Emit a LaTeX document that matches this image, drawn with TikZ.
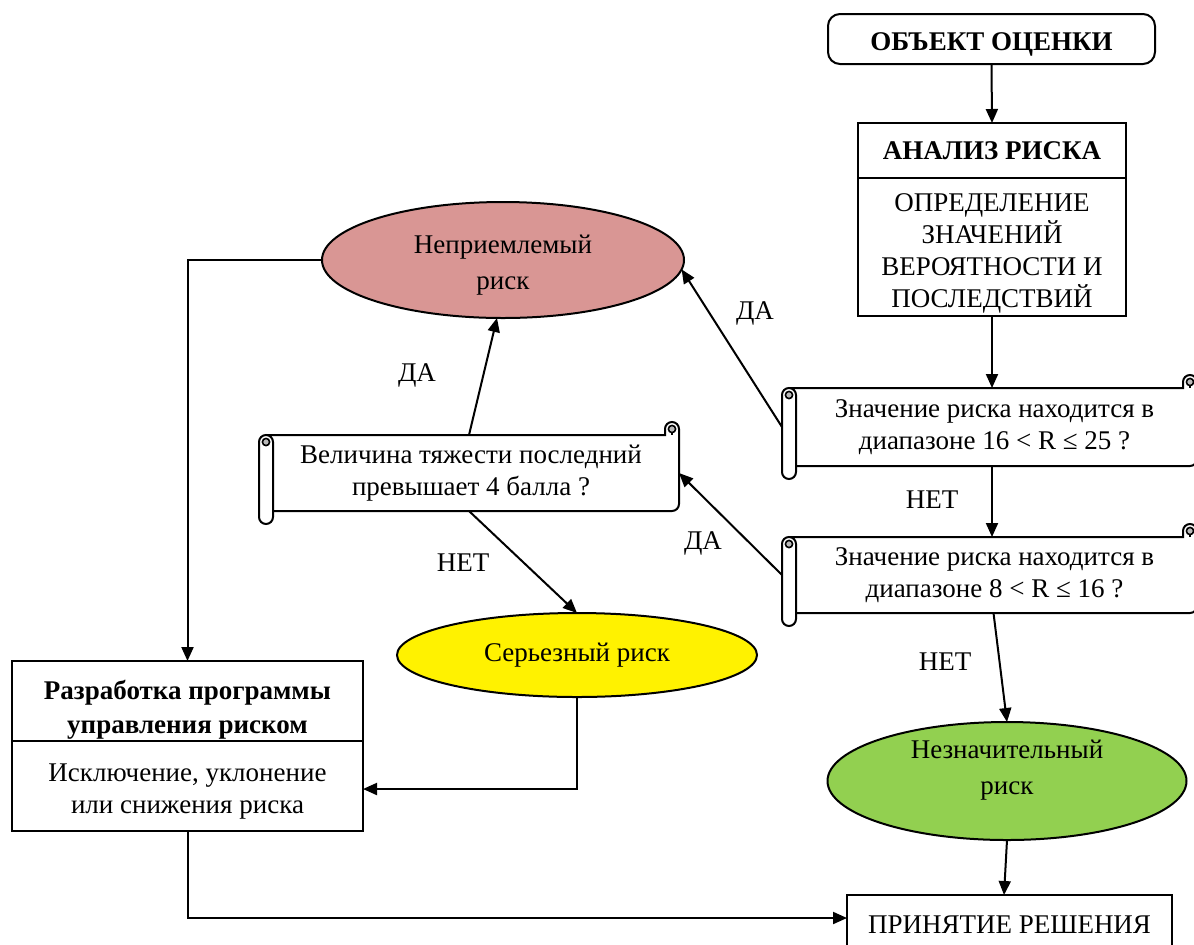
\documentclass[tikz,border=0pt]{standalone}
\usepackage{fontspec}
\setmainfont{Liberation Serif}
\usetikzlibrary{shapes.geometric,arrows.meta}
\definecolor{ered}{RGB}{217,150,148}
\definecolor{egreen}{RGB}{146,208,80}
\newcommand\scrollshp[4]{%
  \filldraw[line width=1pt, fill=white] ({#1+7},#2) -- ({#3-14},#2) [rounded corners=3.5pt] -- ({#3-14},{#2-13}) -- (#3,{#2-13}) -- (#3,#4) [sharp corners] -- ({#1+7},#4) -- cycle;
  \filldraw[line width=1pt, fill=white, rounded corners=3.5pt] (#1,#2) rectangle ({#1+14},{#4+13});
  \filldraw[line width=0.8pt, fill=gray!55] ({#1+7},{#2+7}) circle[radius=1.8pt];
  \filldraw[line width=0.8pt, fill=gray!55] ({#3-7},{#2-6}) circle[radius=1.8pt];
  \draw[line width=0.8pt] ({#3-7},{#2-2.5}) -- ({#3-7},#2);
}
\begin{document}
\begin{tikzpicture}[x=0.5pt,y=-0.5pt,
  every node/.style={font=\fontsize{13.5}{16}\selectfont, align=center, inner sep=0pt, outer sep=0pt},
  conn/.style={line width=1pt, -{Triangle[length=7pt,width=6pt]}},
  box/.style={draw, line width=1pt, fill=white, rectangle},
  ell/.style={draw, line width=1pt, ellipse},
  lbl/.style={}]
\useasboundingbox (0,0) rectangle (1194,944);

% top boxes
\node[box, rounded corners=6pt, minimum width=163.5pt, minimum height=25pt] (obj) at (991.5,39) {};
\node[font=\fontsize{13.5}{16}\selectfont\bfseries] (objt) at (991.5,44) {ОБЪЕКТ ОЦЕНКИ};
\node[box, minimum width=134pt, minimum height=27.5pt, font=\fontsize{13.5}{16}\selectfont\bfseries] (analtop) at (992,150.5) {АНАЛИЗ РИСКА};
\node[box, minimum width=134pt, minimum height=69pt] (analbot) at (992,247) {};
\node (analt) at (992,253) {ОПРЕДЕЛЕНИЕ\\ЗНАЧЕНИЙ\\ВЕРОЯТНОСТИ И\\ПОСЛЕДСТВИЙ};

% scrolls
\scrollshp{782}{388}{1197}{466}
\node[minimum width=207.5pt, minimum height=39pt] (sc1) at (989.5,427) {\hspace*{5pt}Значение риска находится в\\\hspace*{5pt}диапазоне 16 < R ≤ 25 ?};
\scrollshp{782}{537}{1197}{613}
\node[minimum width=207.5pt, minimum height=38pt] (sc2) at (989.5,575) {\hspace*{5pt}Значение риска находится в\\\hspace*{5pt}диапазоне 8 < R ≤ 16 ?};
\scrollshp{259}{435}{679}{511}
\node[minimum width=210pt, minimum height=38pt] (sc3) at (469,473) {\hspace*{2pt}Величина тяжести последний\\\hspace*{2pt}превышает 4 балла ?};

% ellipses
\node[ell, fill=ered, minimum width=181pt, minimum height=58pt] (e1) at (503,260) {};
\node (e1t) at (503,265) {Неприемлемый\\[2pt]риск};
\node[ell, fill=yellow, minimum width=180pt, minimum height=42pt] (e2) at (577,655) {Серьезный риск};
\node[ell, fill=egreen, minimum width=179.5pt, minimum height=59pt] (e3) at (1007,781) {};
\node (e3t) at (1007,770) {Незначительный\\[2pt]риск};

% development box
\begin{scope}
  \clip (12,661) rectangle (363,741);
  \node[font=\fontsize{13.5}{17}\selectfont\bfseries] (rtext) at (187.5,710) {Разработка программы\\управления риском};
\end{scope}
\node[draw, line width=1pt, minimum width=175.5pt, minimum height=40pt] (rtop) at (187.5,701) {};
\node[box, minimum width=175.5pt, minimum height=45pt] (rbot) at (187.5,786) {};
\node (rbott) at (187.5,792) {Исключение, уклонение\\или снижения риска};

% decision box
\node[box, minimum width=162.5pt, minimum height=30pt] (prin) at (1009.5,925) {ПРИНЯТИЕ РЕШЕНИЯ};

% connectors
\draw[conn] (obj.south) -- (analtop.north);
\draw[conn] (analbot.south) -- (analbot.south |- sc1.north);
\draw[conn] (analbot.south |- sc1.south) -- (analbot.south |- sc2.north);
\draw[conn] ([xshift=2pt]sc2.south) -- (e3.north);
\draw[conn] (e3.south) -- ([xshift=-1.5pt]e3.south |- prin.north);
\draw[conn] (sc1.west) -- (e1.-3);
\draw[conn] (sc2.west) -- (sc3.east);
\draw[conn] (sc3.north) -- ([xshift=-3pt]e1.south);
\draw[conn] (sc3.south) -- (e2.north);
\draw[conn] (e1.west) -| (rtop.north);
\draw[conn] (e2.south) |- ([yshift=-1.5pt]rbot.east);
\draw[conn] (rbot.south) |- ([yshift=3.5pt]prin.west);

% labels
\node[lbl] (l1) at (755,313) {ДА};
\node[lbl] (l2) at (417,375) {ДА};
\node[lbl] (l3) at (703,543) {ДА};
\node[lbl] (l4) at (932,500) {НЕТ};
\node[lbl] (l5) at (463,563) {НЕТ};
\node[lbl] (l6) at (945,662) {НЕТ};
\end{tikzpicture}
\end{document}
